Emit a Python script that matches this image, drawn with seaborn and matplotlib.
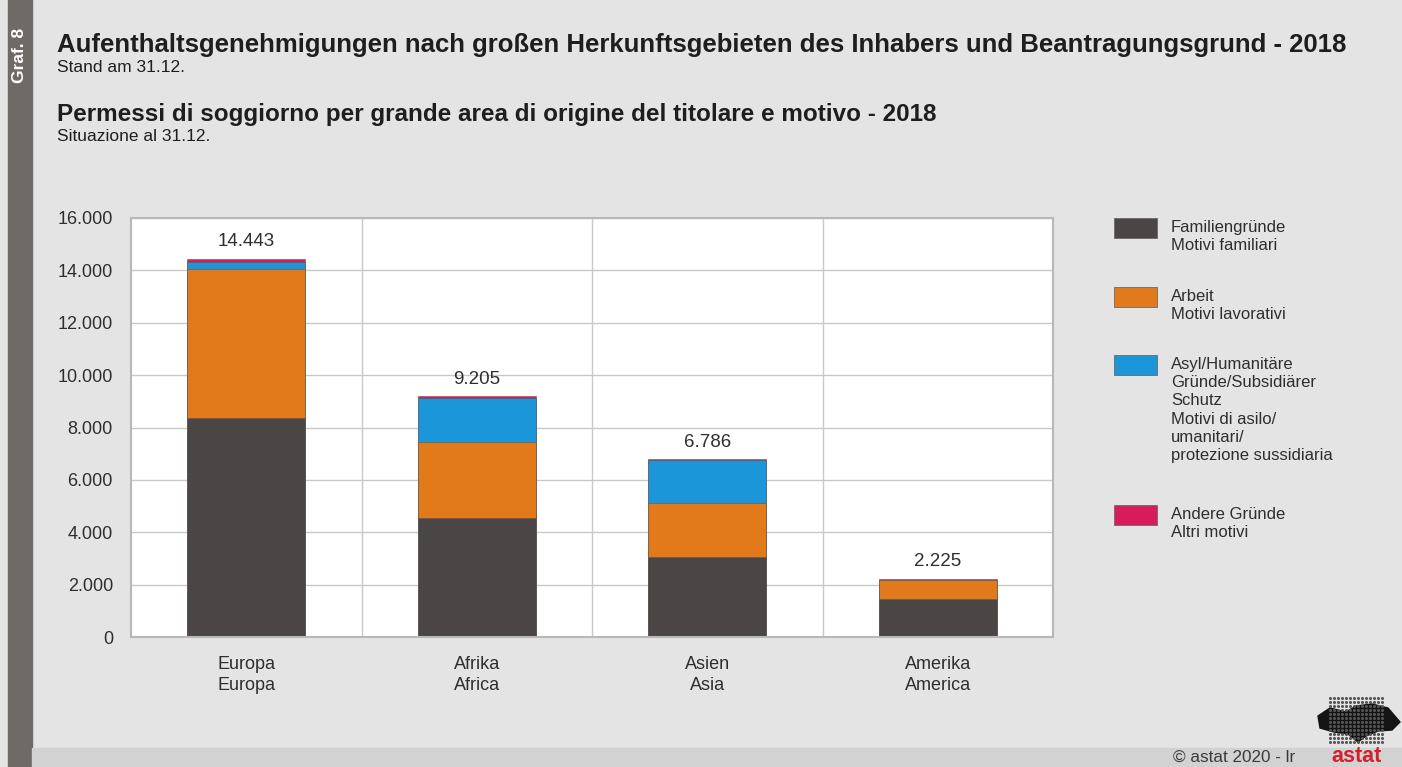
import numpy as np
import pandas as pd
import matplotlib.pyplot as plt
import seaborn as sns
from matplotlib.patches import Rectangle, Polygon

# data
regions = ['Europa\nEuropa', 'Afrika\nAfrica', 'Asien\nAsia', 'Amerika\nAmerica']
familie = [8360, 4540, 3050, 1450]
arbeit = [5680, 2900, 2060, 730]
asyl = [290, 1700, 1650, 15]
andere = [113, 65, 26, 30]
totals = [14443, 9205, 6786, 2225]

reasons = ['Familiengründe\nMotivi familiari',
           'Arbeit\nMotivi lavorativi',
           'Asyl/Humanitäre\nGründe/Subsidiärer\nSchutz\nMotivi di asilo/\numanitari/\nprotezione sussidiaria',
           'Andere Gründe\nAltri motivi']
colors = ['#4a4646', '#e2791b', '#1b96d9', '#d81b5a']
yticks = [0, 2000, 4000, 6000, 8000, 10000, 12000, 14000, 16000]

W, H = 1402, 767
BG = '#e4e4e4'
TXT = '#2e2e2e'


def fx(px):
    return px / W


def fy(py):
    return 1 - py / H


def de(v):
    return f'{v:,}'.replace(',', '.')


def main():
    sns.set_style('white')
    plt.rcParams['font.family'] = ['Liberation Sans', 'DejaVu Sans']

    df = pd.DataFrame({'region': regions, 'fam': familie, 'arb': arbeit,
                       'asy': asyl, 'and': andere})
    df['c1'] = df['fam']
    df['c2'] = df['c1'] + df['arb']
    df['c3'] = df['c2'] + df['asy']
    df['c4'] = df['c3'] + df['and']

    fig = plt.figure(figsize=(W / 100, H / 100), dpi=100, facecolor=BG)
    ax = fig.add_axes([fx(131), fy(637), fx(1053) - fx(131), fy(218) - fy(637)])
    ax.set_facecolor('white')

    # stacked bars: draw cumulative totals from top down
    for col, c in zip(['c4', 'c3', 'c2', 'c1'], colors[::-1]):
        sns.barplot(data=df, x='region', y=col, color=c, saturation=1,
                    width=0.51, errorbar=None, ax=ax,
                    edgecolor='#5a5a5a', linewidth=0.4)

    ax.bar_label(ax.containers[0], labels=[de(v) for v in totals],
                 padding=6, fontsize=13.5, color=TXT)

    ax.set_ylim(0, 16000)
    ax.set_xlim(-0.5, 3.5)
    ax.set_yticks(yticks)
    ax.set_yticklabels([de(v) for v in yticks])
    ax.set_xticks(range(len(regions)))
    ax.set_xticklabels(regions)
    for t in ax.get_xticklabels():
        t.set_linespacing(1.25)
    ax.set_xticks([0.5, 1.5, 2.5], minor=True)
    ax.tick_params(axis='both', which='both', length=0, labelsize=13, colors=TXT)
    ax.tick_params(axis='y', pad=13)
    ax.tick_params(axis='x', pad=14)
    ax.set_xlabel('')
    ax.set_ylabel('')
    ax.set_axisbelow(True)
    ax.grid(axis='y', which='major', color='#c8c8c8', linewidth=1)
    ax.grid(axis='x', which='minor', color='#c8c8c8', linewidth=1)
    for s in ax.spines.values():
        s.set_color('#b8b8b8')
        s.set_linewidth(1.5)

    # frame decorations
    fig.add_artist(Rectangle((fx(8), 0), fx(32) - fx(8), 1, color='#6e6a66',
                             transform=fig.transFigure, zorder=0))
    fig.add_artist(Rectangle((fx(32), 0), 1, fy(748), color='#d2d2d2',
                             transform=fig.transFigure, zorder=0))
    fig.text(fx(20), fy(55), 'Graf. 8', rotation=90, color='white',
             fontsize=12.5, fontweight='bold', ha='center', va='center')

    # titles
    fig.text(fx(57), fy(52), 'Aufenthaltsgenehmigungen nach großen Herkunftsgebieten des Inhabers '
             'und Beantragungsgrund - 2018', fontsize=18.5, fontweight='bold', color='#1e1e1e',
             va='baseline')
    fig.text(fx(57), fy(72), 'Stand am 31.12.', fontsize=12.5, color='#1e1e1e', va='baseline')
    fig.text(fx(57), fy(121), 'Permessi di soggiorno per grande area di origine del titolare '
             'e motivo - 2018', fontsize=17.5, fontweight='bold', color='#1e1e1e', va='baseline')
    fig.text(fx(57), fy(141), 'Situazione al 31.12.', fontsize=12.5, color='#1e1e1e',
             va='baseline')

    # legend, drawn by hand (handles sit at the top of each label block)
    tops = [218, 287, 355, 505]
    for lab, c, top in zip(reasons, colors, tops):
        fig.add_artist(Rectangle((fx(1114), fy(top + 20)), fx(1157) - fx(1114),
                                 fy(top) - fy(top + 20), facecolor=c,
                                 edgecolor='#6a6a6a', linewidth=0.6,
                                 transform=fig.transFigure))
        fig.text(fx(1171), fy(top + 2), lab, fontsize=12, color=TXT, va='top',
                 linespacing=1.27)

    # footer
    fig.text(fx(1173), fy(757), '© astat 2020 - lr', fontsize=12.3, color='#3a3a3a',
             va='center')
    fig.text(fx(1356), fy(756), 'astat', fontsize=15.5, fontweight='bold', color='#d4202c',
             va='center', ha='center')
    # little dotted logo
    gx, gy = np.meshgrid(np.arange(1330, 1386, 4), np.arange(698, 746, 4))
    fig.add_artist(plt.Line2D(fx(gx.ravel()), fy(gy.ravel()), ls='none', marker='o',
                              ms=1.2, color='#555555', transform=fig.transFigure))
    blob = [(1318, 716), (1330, 708), (1346, 712), (1356, 706), (1372, 704), (1388, 708),
            (1400, 722), (1392, 730), (1378, 731), (1366, 736), (1358, 742), (1348, 734),
            (1334, 732), (1320, 728)]
    fig.add_artist(Polygon([(fx(a), fy(b)) for a, b in blob], closed=True, color='#141414',
                           transform=fig.transFigure))

    fig.savefig('out.png', dpi=100, facecolor=BG)
    plt.close(fig)


if __name__ == '__main__':
    main()
